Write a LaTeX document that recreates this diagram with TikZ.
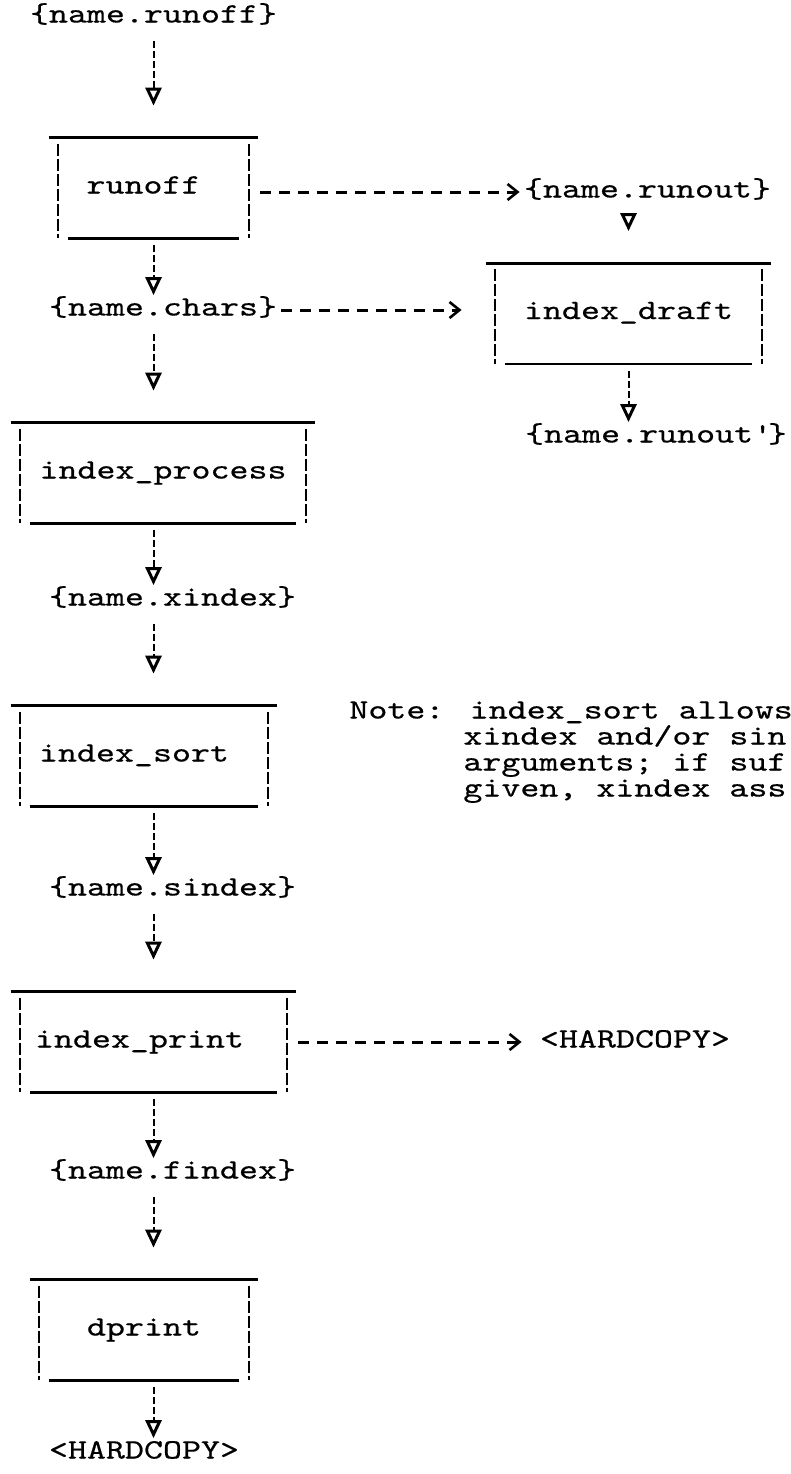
\documentclass[tikz,border=0pt]{standalone}
\usepackage{fontspec}
\usepackage{tikz}
\usetikzlibrary{arrows.meta}
\newfontfamily\typefont{lmmono10-regular.otf}[FakeStretch=1.2925,FakeBold=0.5]

\tikzset{
  txt/.style={font=\typefont\fontsize{14pt}{17pt}\selectfont, inner sep=0pt, text height=8.5pt, text depth=3pt},
  topline/.style={line width=1.4pt},
  sideline/.style={line width=0.8pt, dash pattern=on 6pt off 1.5pt},
  procbox/.style={txt, minimum height=50pt,
    append after command={
      (\tikzlastnode.north west) edge[topline] (\tikzlastnode.north east)
      ([xshift=4.75pt,yshift=-3pt]\tikzlastnode.north west) edge[sideline] ([xshift=4.75pt]\tikzlastnode.south west)
      ([xshift=-4.75pt,yshift=-3pt]\tikzlastnode.north east) edge[sideline] ([xshift=-4.75pt]\tikzlastnode.south east)
      ([xshift=9.5pt]\tikzlastnode.south west) edge[topline] ([xshift=-9.5pt]\tikzlastnode.south east)
    }},
  flow/.style={line width=1pt, dash pattern=on 3.5pt off 1.5pt,
    -{Triangle[open,width=8pt,length=9pt,line width=1.5pt]}},
  texttobox/.style={flow, shorten <=6pt, shorten >=16pt},
  boxtotext/.style={flow, shorten <=3.5pt, shorten >=1.5pt},
  feed/.style={line width=1.5pt, dash pattern=on 5.5pt off 4pt,
    -{Straight Barb[length=5pt,width=8pt,line width=1.3pt]}}
}

\begin{document}
\begin{tikzpicture}[x=0.5pt,y=-0.5pt]
        \useasboundingbox (0,0) rectangle (791,1474);

        % Columns of the arrows
        \coordinate (spine) at (153.5,0);
        \coordinate (draftspine) at (628.5,0);

        % Define the files
        \node[txt] (runofffile) at (153.5,17) {\{name.runoff\}};
        \node[txt] (runoutfile) at (647.5,192) {\{name.runout\}};
        \node[txt] (charsfile) at (163,310) {\{name.chars\}};
        \node[txt] (runoutpfile) at (656,437) {\{name.runout\textquotesingle\}};
        \node[txt] (xindexfile) at (172.5,600) {\{name.xindex\}};
        \node[txt] (sindexfile) at (172.5,890) {\{name.sindex\}};
        \node[txt] (findexfile) at (172.5,1173) {\{name.findex\}};
        \node[txt] (hardcopyright) at (635,1042) {<HARDCOPY>};
        \node[txt] (hardcopybottom) at (144,1453) {<HARDCOPY>};

        % Define the programs
        \node[procbox, minimum width=104.5pt] (runoff) at (153.5,188) {runoff\hspace*{10pt}};
        \node[procbox, minimum width=142.5pt] (indexdraft) at (628.5,313.5) {index\_draft};
        \node[procbox, minimum width=152pt] (indexprocess) at (163,473) {index\_process};
        \node[procbox, minimum width=133pt] (indexsort) at (144,756) {index\_sort\hspace*{10pt}};
        \node[procbox, minimum width=142.5pt] (indexprint) at (153.5,1042) {index\_print\hspace*{14pt}};
        \node[procbox, minimum width=114pt] (dprint) at (144,1330) {dprint};

        % The note
        \node[txt, anchor=west] (note1) at (349,713) {Note: index\_sort allows};
        \node[txt, anchor=west] (note2) at (463,739) {xindex and/or sin};
        \node[txt, anchor=west] (note3) at (463,765) {arguments; if suf};
        \node[txt, anchor=west] (note4) at (463,791) {given, xindex ass};

        % Draw the main chain
        \draw[texttobox] (runofffile.south -| spine) -- (runoff.north -| spine);
        \draw[boxtotext] (runoff.south -| spine) -- (charsfile.north -| spine);
        \draw[texttobox] (charsfile.south -| spine) -- (indexprocess.north -| spine);
        \draw[boxtotext] (indexprocess.south -| spine) -- (xindexfile.north -| spine);
        \draw[texttobox] (xindexfile.south -| spine) -- (indexsort.north -| spine);
        \draw[boxtotext] (indexsort.south -| spine) -- (sindexfile.north -| spine);
        \draw[texttobox] (sindexfile.south -| spine) -- (indexprint.north -| spine);
        \draw[boxtotext] (indexprint.south -| spine) -- (findexfile.north -| spine);
        \draw[texttobox] (findexfile.south -| spine) -- (dprint.north -| spine);
        \draw[boxtotext] (dprint.south -| spine) -- (hardcopybottom.north -| spine);

        % Draw the draft branch
        \draw[texttobox] (runoutfile.south -| draftspine) -- (indexdraft.north -| draftspine);
        \draw[boxtotext] (indexdraft.south -| draftspine) -- (runoutpfile.north -| draftspine);

        % Draw the side outputs
        \draw[feed, shorten <=1pt, shorten >=2pt] (runoff.east |- runoutfile.west) -- (runoutfile.west);
        \draw[feed, shorten <=2pt, shorten >=12pt] (charsfile.east) -- (charsfile.east -| indexdraft.west);
        \draw[feed, shorten <=1pt, shorten >=9pt] (indexprint.east |- hardcopyright.west) -- (hardcopyright.west);
    \end{tikzpicture}
\end{document}
